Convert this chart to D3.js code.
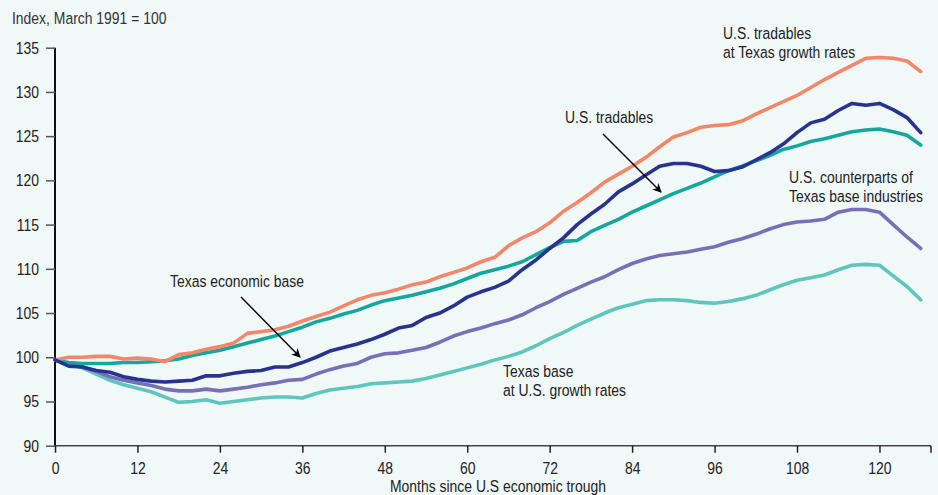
<!DOCTYPE html>
<html>
<head>
<meta charset="utf-8">
<script src="https://cdn.jsdelivr.net/npm/d3@7"></script>
<style>
  html, body { margin: 0; padding: 0; background: #f1f8f8; }
  svg { display: block; }
  text { font-family: "Liberation Sans", Arial, sans-serif; fill: #222; }
</style>
</head>
<body>
<svg id="chart" width="938" height="495"></svg>
<script>
// ---- Data (index, March 1991 = 100), sampled every 2 months ----
const months = d3.range(0, 127, 2);

const usTradablesAtTexasRates = [
  99.7, 100.0, 100.0, 100.1, 100.1, 99.8, 99.9, 99.8, 99.5, 100.3,
  100.5, 100.9, 101.2, 101.6, 102.7, 102.9, 103.1, 103.5, 104.1, 104.6,
  105.1, 105.8, 106.5, 107.0, 107.3, 107.7, 108.2, 108.5, 109.1, 109.6,
  110.1, 110.8, 111.3, 112.6, 113.5, 114.2, 115.2, 116.5, 117.5, 118.6,
  119.8, 120.7, 121.6, 122.6, 123.8, 124.9, 125.4, 126.0, 126.2, 126.3,
  126.7, 127.5, 128.2, 128.9, 129.6, 130.5, 131.4, 132.2, 133.0, 133.8,
  133.9, 133.8, 133.5, 132.3
];

const usTradables = [
  99.7, 99.4, 99.3, 99.3, 99.3, 99.4, 99.4, 99.5, 99.6, 99.8,
  100.2, 100.5, 100.8, 101.2, 101.6, 102.0, 102.4, 102.9, 103.4, 104.0,
  104.4, 104.9, 105.3, 105.9, 106.4, 106.7, 107.0, 107.4, 107.8, 108.3,
  108.9, 109.5, 109.9, 110.3, 110.8, 111.6, 112.4, 113.1, 113.2, 114.2,
  114.9, 115.6, 116.4, 117.1, 117.8, 118.5, 119.1, 119.7, 120.4, 121.1,
  121.6, 122.2, 122.8, 123.5, 123.9, 124.4, 124.7, 125.1, 125.5, 125.7,
  125.8, 125.5, 125.1, 124.0
];

const texasEconomicBase = [
  99.7, 99.0, 98.9, 98.5, 98.3, 97.8, 97.5, 97.3, 97.2, 97.3,
  97.4, 97.9, 97.9, 98.2, 98.4, 98.5, 98.9, 98.9, 99.4, 100.0,
  100.7, 101.1, 101.5, 102.0, 102.6, 103.3, 103.6, 104.5, 105.0, 105.8,
  106.8, 107.4, 107.9, 108.6, 109.9, 111.0, 112.3, 113.5, 115.0, 116.2,
  117.3, 118.7, 119.6, 120.6, 121.6, 121.9, 121.9, 121.6, 121.0, 121.1,
  121.5, 122.3, 123.1, 124.1, 125.4, 126.5, 126.9, 127.9, 128.7, 128.5,
  128.7, 128.0, 127.1, 125.4
];

const usCounterparts = [
  99.7, 99.2, 98.9, 98.4, 97.8, 97.4, 97.1, 96.8, 96.4, 96.2,
  96.2, 96.4, 96.2, 96.4, 96.6, 96.9, 97.1, 97.4, 97.5, 98.1,
  98.6, 99.0, 99.3, 100.0, 100.4, 100.5, 100.8, 101.1, 101.7, 102.4,
  102.9, 103.3, 103.8, 104.2, 104.8, 105.6, 106.3, 107.1, 107.8, 108.5,
  109.1, 109.9, 110.6, 111.1, 111.5, 111.7, 111.9, 112.2, 112.5, 113.0,
  113.4, 113.9, 114.5, 115.0, 115.3, 115.4, 115.6, 116.4, 116.7, 116.7,
  116.4, 115.0, 113.6, 112.3
];

const texasBaseAtUSRates = [
  99.7, 99.2, 98.8, 98.1, 97.4, 96.9, 96.5, 96.1, 95.5, 94.9,
  95.0, 95.2, 94.8, 95.0, 95.2, 95.4, 95.5, 95.5, 95.4, 95.9,
  96.3, 96.5, 96.7, 97.0, 97.1, 97.2, 97.3, 97.6, 98.0, 98.4,
  98.8, 99.2, 99.7, 100.1, 100.6, 101.3, 102.1, 102.8, 103.6, 104.3,
  105.0, 105.6, 106.0, 106.4, 106.5, 106.5, 106.4, 106.2, 106.1, 106.3,
  106.6, 107.0, 107.6, 108.2, 108.7, 109.0, 109.3, 109.9, 110.4, 110.5,
  110.4, 109.2, 108.0, 106.5
];

const xTicks = [0, 12, 24, 36, 48, 60, 72, 84, 96, 108, 120];
const yTicks = [90, 95, 100, 105, 110, 115, 120, 125, 130, 135];

const seriesList = [
  { name: "Texas base at U.S. growth rates", values: texasBaseAtUSRates, color: "#5fc6be" },
  { name: "U.S. counterparts of Texas base industries", values: usCounterparts, color: "#7670b9" },
  { name: "U.S. tradables", values: usTradables, color: "#13a89e" },
  { name: "U.S. tradables at Texas growth rates", values: usTradablesAtTexasRates, color: "#f4866a" },
  { name: "Texas economic base", values: texasEconomicBase, color: "#27338f" }
];

// ---- Layout ----
const NARROW = 0.82;       // horizontal squeeze to imitate a condensed face
const FS = "17px";
const svg = d3.select("#chart");
const x = d3.scaleLinear().domain([0, 127.5]).range([55, 931]);
const y = d3.scaleLinear().domain([90, 135]).range([445.7, 47.7]);

function narrowText(parent, xPos, yPos, str, anchor) {
  return parent.append("text")
    .attr("transform", `translate(${xPos},${yPos}) scale(${NARROW},1)`)
    .attr("text-anchor", anchor || "start")
    .style("font-size", FS)
    .text(str);
}

// Axis title (y)
narrowText(svg, 12, 24, "Index, March 1991 = 100").style("fill", "#333");

// Y axis
const yAxis = svg.append("g").attr("transform", "translate(55,0)")
  .call(d3.axisLeft(y).tickValues(yTicks).tickSize(9).tickPadding(7).tickFormat(d3.format("d")));
yAxis.select(".domain").attr("d", `M0,${y(135)}V${y(90)}`).attr("stroke", "#111").attr("stroke-width", 2);
yAxis.selectAll(".tick line").attr("stroke", "#555").attr("stroke-width", 1.5);
yAxis.selectAll(".tick text")
  .attr("x", -16 / NARROW)
  .attr("transform", `scale(${NARROW},1)`)
  .style("font-size", FS).style("fill", "#222")
  .style("font-family", '"Liberation Sans", Arial, sans-serif');

// X axis
const xAxis = svg.append("g").attr("transform", `translate(0,${y(90)})`)
  .call(d3.axisBottom(x).tickValues(xTicks).tickSize(7).tickPadding(9).tickFormat(d3.format("d")));
xAxis.select(".domain").attr("d", `M${x(0)},0H${x(127.5)}`).attr("stroke", "#444").attr("stroke-width", 1.5);
xAxis.selectAll(".tick line").attr("stroke", "#222").attr("stroke-width", 1.5);
xAxis.selectAll(".tick").each(function (d) {
  d3.select(this).select("text")
    .attr("transform", `scale(${NARROW},1)`)
    .style("font-size", FS).style("fill", "#222")
    .style("font-family", '"Liberation Sans", Arial, sans-serif');
});
xAxis.append("line").attr("x1", x(127.5)).attr("x2", x(127.5)).attr("y1", 0).attr("y2", 7)
  .attr("stroke", "#222").attr("stroke-width", 1.5);

// X axis title
narrowText(svg, 498, 492, "Months since U.S economic trough", "middle");

// Lines
const line = d3.line().x((d, i) => x(months[i])).y(d => y(d)).curve(d3.curveLinear);
svg.append("g").selectAll("path").data(seriesList).join("path")
  .attr("d", d => line(d.values))
  .attr("fill", "none")
  .attr("stroke", d => d.color)
  .attr("stroke-width", 3.6)
  .attr("stroke-linejoin", "round")
  .attr("stroke-linecap", "round");

// Annotations
const defs = svg.append("defs");
defs.append("marker").attr("id", "arrow").attr("viewBox", "0 0 10 10")
  .attr("refX", 9).attr("refY", 5).attr("markerWidth", 9).attr("markerHeight", 9)
  .attr("markerUnits", "userSpaceOnUse").attr("orient", "auto")
  .append("path").attr("d", "M0,0 L10,5 L0,10 L3,5 Z").attr("fill", "#000");

function label(lines, xPos, yPos, lh) {
  lines.forEach((s, i) => narrowText(svg, xPos, yPos + i * lh, s));
}
label(["U.S. tradables", "at Texas growth rates"], 723, 39, 19);
label(["U.S. tradables"], 565, 123, 19);
label(["U.S. counterparts of", "Texas base industries"], 789, 183, 19);
label(["Texas economic base"], 170, 287, 19);
label(["Texas base", "at U.S. growth rates"], 503, 377, 18.5);

function arrow(x1, y1, x2, y2) {
  svg.append("line").attr("x1", x1).attr("y1", y1).attr("x2", x2).attr("y2", y2)
    .attr("stroke", "#000").attr("stroke-width", 1.4).attr("marker-end", "url(#arrow)");
}
arrow(603, 134, 661, 192);
arrow(241, 297, 300, 357);
</script>
</body>
</html>
